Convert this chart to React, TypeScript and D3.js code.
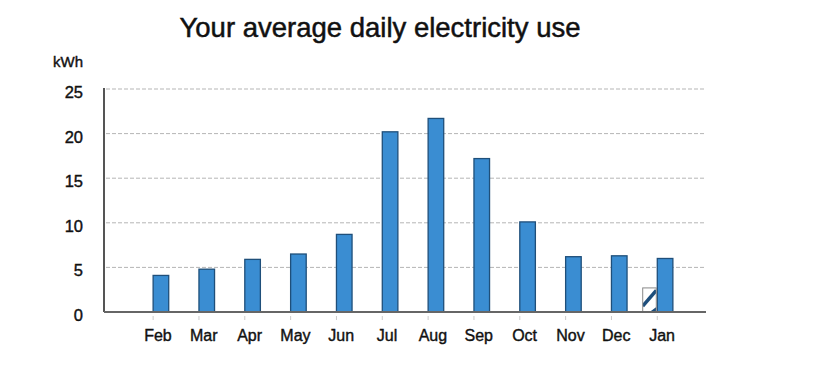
import React from "react";
import * as d3 from "d3";

const months = ["Feb", "Mar", "Apr", "May", "Jun", "Jul", "Aug", "Sep", "Oct", "Nov", "Dec", "Jan"];
const usage = [4.1, 4.8, 5.9, 6.5, 8.7, 20.2, 21.7, 17.2, 10.1, 6.2, 6.3, 6.0];
const lastYear: (number | null)[] = [null, null, null, null, null, null, null, null, null, null, null, 2.7];
const yTicks = [0, 5, 10, 15, 20, 25];
const title = "Your average daily electricity use";
const unit = "kWh";

const W = 820;
const H = 375;
const FONT = "'Liberation Sans', Arial, Helvetica, sans-serif";

export default function App() {
  const x = d3.scaleBand<string>().domain(months).range([138, 688]).paddingInner(0.66).paddingOuter(0.33);
  const y = d3.scaleLinear().domain([0, 25]).range([312, 89]);
  const bw = x.bandwidth();
  const axisLeft = 104;
  const axisRight = 706;

  return (
    <svg width={W} height={H} style={{ position: "absolute", left: 0, top: 0, background: "#fff" }}>
      <rect x={0} y={0} width={W} height={H} fill="#fff" />
      <text x={380} y={37} textAnchor="middle" fontFamily={FONT} fontSize={27.5} fill="#111" stroke="#111" strokeWidth={0.5}>
        {title}
      </text>
      <text x={68} y={67} textAnchor="middle" fontFamily={FONT} fontSize={15} fill="#111" stroke="#111" strokeWidth={0.4}>
        {unit}
      </text>
      {yTicks.map((t) => (
        <g key={t}>
          {t > 0 && (
            <line x1={axisLeft + 2} x2={axisRight} y1={y(t)} y2={y(t)} stroke="#b5b5b5" strokeWidth={1} strokeDasharray="4 2" />
          )}
          <text x={83} y={y(t) + 9} textAnchor="end" fontFamily={FONT} fontSize={16.5} fill="#111" stroke="#111" strokeWidth={0.4}>
            {t}
          </text>
        </g>
      ))}
      {months.map((m) => (
        <line key={"tk" + m} x1={x(m)!} x2={x(m)!} y1={y(0) + 4} y2={y(0) + 8} stroke="#ccc" strokeWidth={1} />
      ))}
      {usage.map((v, i) => (
        <rect
          key={"b" + i}
          x={x(months[i])!}
          y={y(v)}
          width={bw}
          height={y(0) - y(v)}
          fill="#3a8dd2"
          stroke="#1f4f7a"
          strokeWidth={1.3}
        />
      ))}
      {lastYear.map((v, i) => {
        if (v == null) return null;
        const bx = x(months[i])! - bw + 1;
        const bwid = bw - 2;
        const top = y(v);
        const bot = y(0);
        const h = bot - top;
        return (
          <g key={"ly" + i}>
            <clipPath id={"clip" + i}>
              <rect x={bx} y={top} width={bwid} height={h} />
            </clipPath>
            <rect x={bx} y={top} width={bwid} height={h} fill="#fff" />
            <g clipPath={`url(#clip${i})`}>
              <line x1={bx} y1={top + h * 0.75} x2={bx + bwid} y2={top + h * 0.1} stroke="#1d4e7c" strokeWidth={3.5} />
              <line x1={bx + bwid * 0.6} y1={bot + 1} x2={bx + bwid + 4} y2={bot - 6} stroke="#1d4e7c" strokeWidth={3} />
            </g>
            <rect x={bx} y={top} width={bwid} height={h} fill="none" stroke="#888" strokeWidth={1} />
          </g>
        );
      })}
      <line x1={axisLeft} x2={axisLeft} y1={88} y2={y(0)} stroke="#555" strokeWidth={2} />
      <line x1={axisLeft} x2={axisRight} y1={y(0)} y2={y(0)} stroke="#666" strokeWidth={2} />
      {months.map((m) => (
        <text
          key={"l" + m}
          x={x(m)! + bw / 2 - 3}
          y={341}
          textAnchor="middle"
          fontFamily={FONT}
          fontSize={16}
          fill="#111"
          stroke="#111"
          strokeWidth={0.4}
        >
          {m}
        </text>
      ))}
    </svg>
  );
}
